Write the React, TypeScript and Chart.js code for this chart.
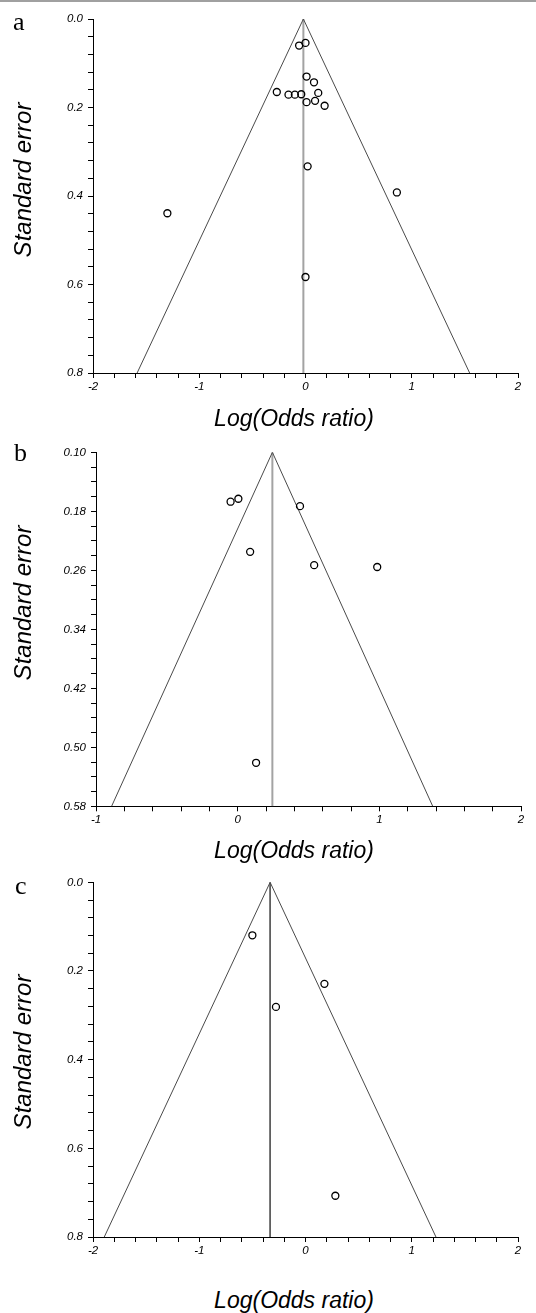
import React, { useEffect, useRef } from "react";
import { Chart, registerables } from "chart.js";

Chart.register(...registerables);

// ---------------- Panel a ----------------
const aLogOddsRatio = [0.0, -0.06, 0.01, 0.08, -0.27, -0.16, -0.1, -0.04, 0.12, 0.01, 0.09, 0.18, 0.02, 0.86, -1.3, 0.0];
const aStandardError = [0.054, 0.06, 0.13, 0.143, 0.165, 0.171, 0.171, 0.17, 0.167, 0.188, 0.185, 0.196, 0.333, 0.392, 0.439, 0.583];
const aPooled = -0.02;
const aFunnelBase = [-1.585, 1.545];
const aSeRange = [0.0, 0.8];
const aXRange = [-2, 2];
const aXLabels = [-2, -1, 0, 1, 2];
const aYLabels = [0.0, 0.2, 0.4, 0.6, 0.8];

// ---------------- Panel b ----------------
const bLogOddsRatio = [-0.05, 0.005, 0.44, 0.088, 0.54, 0.985, 0.13];
const bStandardError = [0.167, 0.163, 0.173, 0.235, 0.253, 0.2555, 0.521];
const bPooled = 0.245;
const bFunnelBase = [-0.89, 1.377];
const bSeRange = [0.1, 0.58];
const bXRange = [-1, 2];
const bXLabels = [-1, 0, 1, 2];
const bYLabels = [0.1, 0.18, 0.26, 0.34, 0.42, 0.5, 0.58];

// ---------------- Panel c ----------------
const cLogOddsRatio = [-0.5, 0.178, -0.278, 0.281];
const cStandardError = [0.1195, 0.229, 0.281, 0.707];
const cPooled = -0.333;
const cFunnelBase = [-1.894, 1.228];
const cSeRange = [0.0, 0.8];
const cXRange = [-2, 2];
const cXLabels = [-2, -1, 0, 1, 2];
const cYLabels = [0.0, 0.2, 0.4, 0.6, 0.8];

const xAxisTitle = "Log(Odds ratio)";
const yAxisTitle = "Standard error";

const TICK_FONT = "Arial, 'Liberation Sans', Helvetica, sans-serif";

type Layout = {
  top: number;
  height: number;
  padTop: number;
  padRight: number;
  yAxisWidth: number;
  xAxisHeight: number;
};

type PanelSpec = {
  logOR: number[];
  se: number[];
  pooled: number;
  funnelBase: number[];
  seRange: number[];
  xRange: number[];
  xLabels: number[];
  yLabels: number[];
  xStep: number;
  yStep: number;
  yDecimals: number;
  layout: Layout;
  centerColor: string;
  centerWidth: number;
};

const panels: PanelSpec[] = [
  {
    logOR: aLogOddsRatio,
    se: aStandardError,
    pooled: aPooled,
    funnelBase: aFunnelBase,
    seRange: aSeRange,
    xRange: aXRange,
    xLabels: aXLabels,
    yLabels: aYLabels,
    xStep: 0.2,
    yStep: 0.04,
    yDecimals: 1,
    layout: { top: 0, height: 400, padTop: 19, padRight: 18, yAxisWidth: 93, xAxisHeight: 27 },
    centerColor: "#a3a3a3",
    centerWidth: 2,
  },
  {
    logOR: bLogOddsRatio,
    se: bStandardError,
    pooled: bPooled,
    funnelBase: bFunnelBase,
    seRange: bSeRange,
    xRange: bXRange,
    xLabels: bXLabels,
    yLabels: bYLabels,
    xStep: 0.2,
    yStep: 0.02,
    yDecimals: 2,
    layout: { top: 430, height: 410, padTop: 22.3, padRight: 15, yAxisWidth: 96, xAxisHeight: 33.7 },
    centerColor: "#a3a3a3",
    centerWidth: 2,
  },
  {
    logOR: cLogOddsRatio,
    se: cStandardError,
    pooled: cPooled,
    funnelBase: cFunnelBase,
    seRange: cSeRange,
    xRange: cXRange,
    xLabels: cXLabels,
    yLabels: cYLabels,
    xStep: 0.2,
    yStep: 0.04,
    yDecimals: 1,
    layout: { top: 860, height: 410, padTop: 22.3, padRight: 18, yAxisWidth: 93, xAxisHeight: 33 },
    centerColor: "#555555",
    centerWidth: 1,
  },
];

const near = (v: number, list: number[]) => list.some((t) => Math.abs(v - t) < 1e-6);

function FunnelPanel({ spec }: { spec: PanelSpec }) {
  const ref = useRef<HTMLCanvasElement | null>(null);

  useEffect(() => {
    if (!ref.current) return;
    const [seTop, seBottom] = spec.seRange;
    const L = spec.layout;
    const chart = new Chart(ref.current, {
      type: "scatter",
      data: {
        datasets: [
          {
            data: spec.logOR.map((x, i) => ({ x, y: spec.se[i] })),
            pointRadius: 3.5,
            pointHoverRadius: 3.5,
            pointStyle: "circle",
            borderColor: "#000000",
            backgroundColor: "rgba(0,0,0,0)",
            borderWidth: 1.3,
            showLine: false,
          },
          {
            data: [
              { x: spec.funnelBase[0], y: seBottom },
              { x: spec.pooled, y: seTop },
              { x: spec.funnelBase[1], y: seBottom },
            ],
            showLine: true,
            pointRadius: 0,
            borderColor: "#4a4a4a",
            borderWidth: 1,
            fill: false,
          },
          {
            data: [
              { x: spec.pooled, y: seTop },
              { x: spec.pooled, y: seBottom },
            ],
            showLine: true,
            pointRadius: 0,
            borderColor: spec.centerColor,
            borderWidth: spec.centerWidth,
            fill: false,
          },
        ],
      },
      options: {
        animation: false,
        responsive: false,
        maintainAspectRatio: false,
        devicePixelRatio: 1,
        events: [],
        layout: { padding: { left: 0, top: L.padTop, right: L.padRight, bottom: 0 } },
        plugins: { legend: { display: false }, tooltip: { enabled: false }, title: { display: false } },
        scales: {
          x: {
            type: "linear",
            position: "bottom",
            min: spec.xRange[0],
            max: spec.xRange[1],
            afterFit: (scale: any) => {
              scale.height = L.xAxisHeight;
            },
            grid: { drawOnChartArea: false, drawTicks: true, tickLength: 5, tickColor: "#000", color: "#000" },
            border: { display: true, color: "#000", width: 1 },
            ticks: {
              stepSize: spec.xStep,
              autoSkip: false,
              maxRotation: 0,
              minRotation: 0,
              padding: 2,
              color: "#000",
              font: { family: TICK_FONT, size: 11.5, style: "italic" },
              callback: (value: any) => (near(Number(value), spec.xLabels) ? String(Math.round(Number(value))) : ""),
            },
          },
          y: {
            type: "linear",
            position: "left",
            reverse: true,
            min: seTop,
            max: seBottom,
            afterFit: (scale: any) => {
              scale.width = L.yAxisWidth;
            },
            grid: { drawOnChartArea: false, drawTicks: true, tickLength: 5, tickColor: "#000", color: "#000" },
            border: { display: true, color: "#000", width: 1 },
            ticks: {
              stepSize: spec.yStep,
              autoSkip: false,
              padding: 5,
              color: "#000",
              font: { family: TICK_FONT, size: 11.5, style: "italic" },
              callback: (value: any) =>
                near(Number(value), spec.yLabels) ? Number(value).toFixed(spec.yDecimals) : "",
            },
          },
        },
      },
    } as any);
    return () => chart.destroy();
  }, [spec]);

  return (
    <canvas
      ref={ref}
      width={536}
      height={spec.layout.height}
      style={{ position: "absolute", left: 0, top: spec.layout.top, width: 536, height: spec.layout.height }}
    />
  );
}

const letterStyle: React.CSSProperties = {
  position: "absolute",
  fontFamily: "'Liberation Serif', 'Times New Roman', serif",
  fontSize: 26,
  lineHeight: "26px",
  color: "#000",
};

const yTitleStyle = (cx: number, cy: number): React.CSSProperties => ({
  position: "absolute",
  left: cx,
  top: cy,
  transform: "translate(-50%, -50%) rotate(-90deg)",
  fontFamily: TICK_FONT,
  fontStyle: "italic",
  fontSize: 24,
  lineHeight: "24px",
  whiteSpace: "nowrap",
  color: "#000",
});

const xTitleStyle = (cx: number, top: number): React.CSSProperties => ({
  position: "absolute",
  left: cx,
  top,
  transform: "translateX(-50%)",
  fontFamily: TICK_FONT,
  fontStyle: "italic",
  fontSize: 23,
  lineHeight: "23px",
  whiteSpace: "nowrap",
  color: "#000",
});

export default function App() {
  return (
    <div
      style={{
        position: "absolute",
        left: 0,
        top: 0,
        width: 536,
        height: 1313,
        overflow: "hidden",
        background: "#fff",
      }}
    >
      <div style={{ position: "absolute", left: 0, top: 0, width: 536, height: 2, background: "#a0a0a0" }} />
      {panels.map((p, i) => (
        <FunnelPanel key={i} spec={p} />
      ))}
      <div style={{ ...letterStyle, left: 13, top: 9 }}>a</div>
      <div style={{ ...letterStyle, left: 14, top: 440 }}>b</div>
      <div style={{ ...letterStyle, left: 15, top: 873 }}>c</div>

      <div style={yTitleStyle(22.5, 180)}>{yAxisTitle}</div>
      <div style={yTitleStyle(22.5, 603)}>{yAxisTitle}</div>
      <div style={yTitleStyle(22.5, 1052)}>{yAxisTitle}</div>

      <div style={xTitleStyle(294, 406.5)}>{xAxisTitle}</div>
      <div style={xTitleStyle(294, 838.5)}>{xAxisTitle}</div>
      <div style={xTitleStyle(294, 1288.5)}>{xAxisTitle}</div>
    </div>
  );
}
